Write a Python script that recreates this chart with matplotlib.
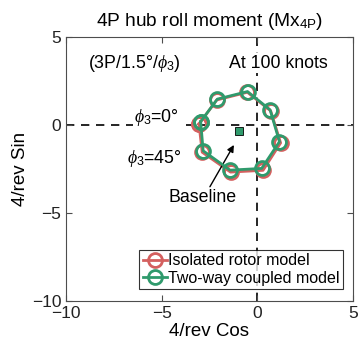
import numpy as np
import matplotlib.pyplot as plt

plt.rcParams['font.family'] = ['Liberation Sans', 'DejaVu Sans']
plt.rcParams['mathtext.fontset'] = 'custom'
plt.rcParams['mathtext.it'] = 'Liberation Serif:italic'
plt.rcParams['mathtext.rm'] = 'Liberation Sans'

# phi_3 = 0, 45, ..., 315 deg (closed loop)
cos_iso = [-3.05, -2.12, -0.52, 0.70, 1.22, 0.30, -1.40, -2.88]
sin_iso = [0.05, 1.42, 1.86, 0.80, -1.02, -2.58, -2.68, -1.55]
cos_cpl = [-2.96, -2.09, -0.51, 0.67, 1.16, 0.23, -1.42, -2.83]
sin_cpl = [0.19, 1.47, 1.90, 0.86, -0.95, -2.47, -2.57, -1.47]
base_cos = [-0.95]
base_sin = [-0.33]

red = '#d4605f'
green = '#2f9a6c'
grey = '#4d4d4d'

fig = plt.figure(figsize=(3.59, 3.56), dpi=100)
ax = fig.add_axes([0.184, 0.155, 0.799, 0.741])

ax.plot([-10, 5], [0, 0], '--', color='k', lw=1.2, dashes=(5, 4), zorder=1)
ax.plot([0, 0], [-10, 5], '--', color='k', lw=1.2, dashes=(5, 4), zorder=1)

ax.plot(cos_iso + cos_iso[:1], sin_iso + sin_iso[:1], '-o', color=red, lw=2,
        ms=10, mfc='none', mew=2, label='Isolated rotor model', zorder=3)
ax.plot(cos_cpl + cos_cpl[:1], sin_cpl + sin_cpl[:1], '-o', color=green, lw=2,
        ms=10, mfc='none', mew=2, label='Two-way coupled model', zorder=4)
ax.plot(base_cos, base_sin, 's', color=green, mec='k', mew=0.6, ms=6, zorder=5)

bb = dict(facecolor='white', edgecolor='none', pad=1)
fs = 12.8
ax.text(-8.85, 3.5, r'(3P/1.5°/$\phi_3$)', fontsize=fs, va='center', bbox=bb)
ax.text(-1.5, 3.5, 'At 100 knots', fontsize=fs, va='center', bbox=bb)
ax.text(-4.1, 0.45, r'$\phi_3$=0°', fontsize=fs, ha='right', va='center', bbox=bb)
ax.text(-3.95, -1.9, r'$\phi_3$=45°', fontsize=fs, ha='right', va='center')
ax.text(-2.85, -4.1, 'Baseline', fontsize=fs, ha='center', va='center')
ax.annotate('', xy=(-1.15, -1.0), xytext=(-2.55, -3.65),
            arrowprops=dict(arrowstyle='-|>', color='k', lw=1, mutation_scale=10))

ax.set_xlim(-10, 5)
ax.set_ylim(-10, 5)
ax.set_xticks([-10, -5, 0, 5])
ax.set_yticks([-10, -5, 0, 5])
ax.tick_params(direction='in', top=True, right=True, labelsize=12.5, colors=grey,
               labelcolor='#222222', length=4)
for s in ax.spines.values():
    s.set_color(grey)
ax.set_xlabel('4/rev Cos', fontsize=13.5, labelpad=2)
ax.set_ylabel('4/rev Sin', fontsize=13.5, labelpad=2)
ax.set_title(r'4P hub roll moment (Mx$_{\mathrm{4P}}$)', fontsize=13.8, pad=8)

leg = ax.legend(loc='lower right', bbox_to_anchor=(0.965, 0.045), fontsize=11.5,
                frameon=True, fancybox=False, handlelength=1.5, handletextpad=0.1,
                borderpad=0.2, labelspacing=0.15, borderaxespad=0)
leg.get_frame().set_edgecolor('k')
leg.get_frame().set_linewidth(0.8)
leg.set_zorder(10)

fig.savefig('out.png', dpi=100)
